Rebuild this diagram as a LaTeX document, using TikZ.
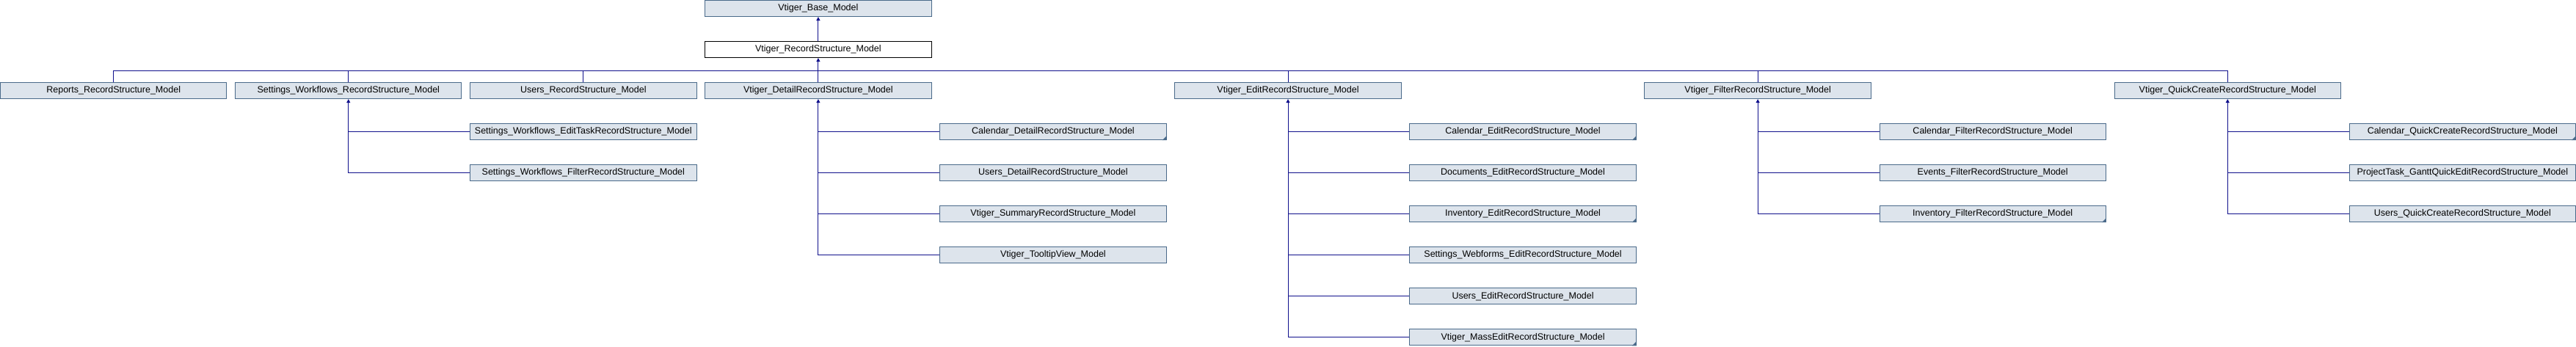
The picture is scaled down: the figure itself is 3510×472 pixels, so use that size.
\documentclass[tikz,border=0pt]{standalone}
\usepackage{fontspec}
\setmainfont{Liberation Sans}
\usetikzlibrary{arrows.meta,calc}
\definecolor{boxfill}{RGB}{221,228,236}
\definecolor{boxline}{RGB}{74,106,138}
\definecolor{conncol}{RGB}{16,16,140}
\tikzset{
  cls/.style={draw=boxline, fill=boxfill, line width=1pt, minimum width=308.4pt,
    minimum height=22pt, inner sep=0pt, anchor=center,
    font=\fontsize{12.5}{14}\selectfont},
  curcls/.style={cls, draw=black, fill=white},
  conn/.style={draw=conncol, line width=1pt},
  inh/.style={conn, -{Triangle[length=5pt,width=5pt]}},
}
\newcommand\mkcls[5][]{\node[cls,#1] (#2) at ({320.06*#3+154.7},{56.04*#4+11.5}) {#5};}
\begin{document}
\begin{tikzpicture}[x=1pt,y=-1pt]
\useasboundingbox (0,0) rectangle (3510,472);
% nodes
\mkcls{base}{3}{0}{Vtiger\_Base\_Model}
\mkcls[curcls]{rs}{3}{1}{Vtiger\_RecordStructure\_Model}
\mkcls{reports}{0}{2}{Reports\_RecordStructure\_Model}
\mkcls{swf}{1}{2}{Settings\_Workflows\_RecordStructure\_Model}
\mkcls{users}{2}{2}{Users\_RecordStructure\_Model}
\mkcls{det}{3}{2}{Vtiger\_DetailRecordStructure\_Model}
\mkcls{edit}{5}{2}{Vtiger\_EditRecordStructure\_Model}
\mkcls{filt}{7}{2}{Vtiger\_FilterRecordStructure\_Model}
\mkcls{qc}{9}{2}{Vtiger\_QuickCreateRecordStructure\_Model}
\mkcls{swet}{2}{3}{Settings\_Workflows\_EditTaskRecordStructure\_Model}
\mkcls{swfi}{2}{4}{Settings\_Workflows\_FilterRecordStructure\_Model}
\mkcls{caldet}{4}{3}{Calendar\_DetailRecordStructure\_Model}
\mkcls{usersdet}{4}{4}{Users\_DetailRecordStructure\_Model}
\mkcls{summary}{4}{5}{Vtiger\_SummaryRecordStructure\_Model}
\mkcls{tooltip}{4}{6}{Vtiger\_TooltipView\_Model}
\mkcls{caledit}{6}{3}{Calendar\_EditRecordStructure\_Model}
\mkcls{docedit}{6}{4}{Documents\_EditRecordStructure\_Model}
\mkcls{invedit}{6}{5}{Inventory\_EditRecordStructure\_Model}
\mkcls{webforms}{6}{6}{Settings\_Webforms\_EditRecordStructure\_Model}
\mkcls{usersedit}{6}{7}{Users\_EditRecordStructure\_Model}
\mkcls{massedit}{6}{8}{Vtiger\_MassEditRecordStructure\_Model}
\mkcls{calfilt}{8}{3}{Calendar\_FilterRecordStructure\_Model}
\mkcls{evfilt}{8}{4}{Events\_FilterRecordStructure\_Model}
\mkcls{invfilt}{8}{5}{Inventory\_FilterRecordStructure\_Model}
\mkcls{calqc}{10}{3}{Calendar\_QuickCreateRecordStructure\_Model}
\mkcls{ptqc}{10}{4}{ProjectTask\_GanttQuickEditRecordStructure\_Model}
\mkcls{usersqc}{10}{5}{Users\_QuickCreateRecordStructure\_Model}
% truncation corners
\foreach \n in {caldet,caledit,invedit,massedit,invfilt,calqc}
  \fill[boxline] (\n.south east) -- ++(-6,0) -- ++(6,-6) -- cycle;
% base <- rs
\draw[inh] (rs.north) -- (base.south);
% bus
\coordinate (busL) at ($(reports.north)+(0,-16)$);
\coordinate (busR) at (qc.north |- busL);
\draw[conn] (busL) -- (busR);
\draw[inh] (rs.south |- busL) -- (rs.south);
\foreach \n in {reports,swf,users,det,edit,filt,qc}
  \draw[conn] (\n.north) -- (\n.north |- busL);
% sub-hierarchies
\draw[inh] (swf.south |- swfi.west) -- (swf.south);
\foreach \c in {swet,swfi} \draw[conn] (swf.south |- \c.west) -- (\c.west);
\draw[inh] (det.south |- tooltip.west) -- (det.south);
\foreach \c in {caldet,usersdet,summary,tooltip} \draw[conn] (det.south |- \c.west) -- (\c.west);
\draw[inh] (edit.south |- massedit.west) -- (edit.south);
\foreach \c in {caledit,docedit,invedit,webforms,usersedit,massedit} \draw[conn] (edit.south |- \c.west) -- (\c.west);
\draw[inh] (filt.south |- invfilt.west) -- (filt.south);
\foreach \c in {calfilt,evfilt,invfilt} \draw[conn] (filt.south |- \c.west) -- (\c.west);
\draw[inh] (qc.south |- usersqc.west) -- (qc.south);
\foreach \c in {calqc,ptqc,usersqc} \draw[conn] (qc.south |- \c.west) -- (\c.west);
\end{tikzpicture}
\end{document}
